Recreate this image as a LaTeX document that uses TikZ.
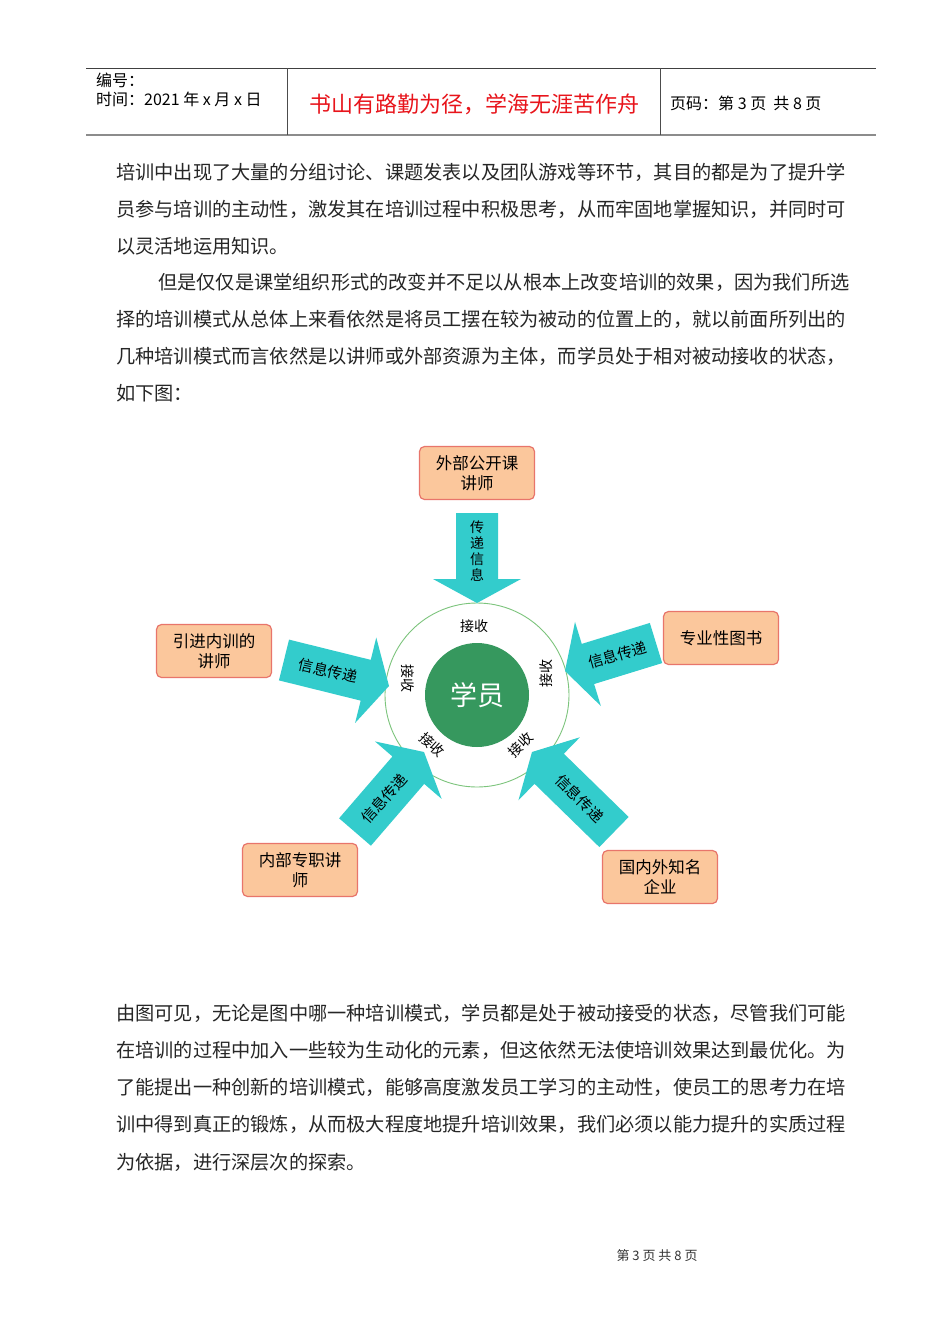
\documentclass[tikz,border=0pt]{standalone}
\usepackage{fontspec}
\setmainfont{Noto Sans CJK SC}
\usetikzlibrary{calc}
\definecolor{boxfill}{HTML}{FBC79C}
\definecolor{boxline}{HTML}{E8756B}
\definecolor{teal}{HTML}{33CCCC}
\definecolor{stugreen}{HTML}{36985E}
\definecolor{ringgreen}{HTML}{7CC47C}
\definecolor{hdrred}{HTML}{E8141B}
\tikzset{
  body/.style={anchor=west,inner sep=0pt,font=\fontsize{19.2}{20}\selectfont,text=black!85},
  srcbox/.style={draw=boxline,line width=1.2pt,fill=boxfill,rounded corners=5pt,minimum width=115pt,minimum height=53pt,align=center,inner sep=2pt,font=\fontsize{16.5}{20}\selectfont},
  arrowfill/.style={fill=teal},
  arrtext/.style={font=\fontsize{15}{16}\selectfont,inner sep=0pt},
  recv/.style={font=\fontsize{14}{15}\selectfont,inner sep=0pt},
  hdr/.style={anchor=west,inner sep=0pt,font=\fontsize{16}{18}\selectfont}
}
\newcommand\bigarrow[4]{%
  \fill[arrowfill] let \p1=($(#2)-(#1)$), \n1={atan2(\y1,\x1)} in
    (#2) -- ($(#2)+(\n1+180:24pt)+(\n1+90:44pt)$) -- ($(#2)+(\n1+180:24pt)+(\n1+90:21pt)$)
    -- ($(#1)+(\n1+90:21pt)$) -- ($(#1)+(\n1-90:21pt)$)
    -- ($(#2)+(\n1+180:24pt)+(\n1-90:21pt)$) -- ($(#2)+(\n1+180:24pt)+(\n1-90:44pt)$) -- cycle;
  \node[arrtext,rotate=#4] at ($(#1)!0.42!(#2)$) {#3};
}
\begin{document}
\begin{tikzpicture}[x=1pt,y=-1pt]
\useasboundingbox[fill=white] (0,0) rectangle (950,1344);
% header
\draw[line width=0.8pt,black!75] (86,68) -- (876,68);
\draw[line width=2pt,black!45] (86,135) -- (876,135);
\draw[line width=0.8pt,black!70] (287,68) -- (287,135) (660,68) -- (660,135);
\node[hdr] (h1) at (96,80) {编号：};
\node[hdr] (h2) at (96,99) {时间：2021 年 x 月 x 日};
\node[inner sep=0pt,text=hdrred,font=\fontsize{22}{24}\selectfont] (h3) at (474,104) {书山有路勤为径，学海无涯苦作舟};
\node[hdr] (h4) at (670,103) {页码：第 3 页\ \ 共 8 页};
% paragraph 1
\node[body] (p1) at (116,172) {培训中出现了大量的分组讨论、课题发表以及团队游戏等环节，其目的都是为了提升学};
\node[body] (p2) at (116,209) {员参与培训的主动性，激发其在培训过程中积极思考，从而牢固地掌握知识，并同时可};
\node[body] (p3) at (116,246) {以灵活地运用知识。};
\node[body] (p4) at (158,282) {但是仅仅是课堂组织形式的改变并不足以从根本上改变培训的效果，因为我们所选};
\node[body] (p5) at (116,319) {择的培训模式从总体上来看依然是将员工摆在较为被动的位置上的，就以前面所列出的};
\node[body] (p6) at (116,356) {几种培训模式而言依然是以讲师或外部资源为主体，而学员处于相对被动接收的状态，};
\node[body] (p7) at (116,393) {如下图：};
% diagram
\node[circle,draw=ringgreen,line width=0.9pt,minimum size=184pt] (ring) at (477,695) {};
\node[circle,fill=stugreen,minimum size=104pt,text=white,font=\fontsize{27}{28}\selectfont] (stu) at (477,695) {学员};
\node[srcbox] (b1) at (477,473) {外部公开课\\讲师};
\node[srcbox] (b2) at (214,651) {引进内训的\\讲师};
\node[srcbox] (b3) at (721,638) {专业性图书};
\node[srcbox] (b4) at (300,870) {内部专职讲\\师};
\node[srcbox] (b5) at (660,877) {国内外知名\\企业};
\coordinate (t1) at (477,513); \coordinate (e1) at (477,603);
\coordinate (t2) at (284,660); \coordinate (e2) at (389,686);
\coordinate (t3) at (656,643); \coordinate (e3) at (565,671);
\coordinate (t4) at (355,832); \coordinate (e4) at (424,752);
\coordinate (t5) at (614,832); \coordinate (e5) at (532,752);
\bigarrow{t1}{e1}{\parbox{15pt}{\centering\fontsize{14}{16}\selectfont 传\\递\\信\\息}}{0}
\bigarrow{t2}{e2}{信息传递}{-13}
\bigarrow{t3}{e3}{信息传递}{16}
\bigarrow{t4}{e4}{信息传递}{48}
\bigarrow{t5}{e5}{信息传递}{-45}
\node[recv] (r1) at (474,626) {接收};
\node[recv,rotate=-90] (r2) at (408,678) {接收};
\node[recv,rotate=90] (r3) at (546,673) {接收};
\node[recv,rotate=-42] (r4) at (432,745) {接收};
\node[recv,rotate=45] (r5) at (521,745) {接收};
% paragraph 2
\node[body] (q1) at (116,1013) {由图可见，无论是图中哪一种培训模式，学员都是处于被动接受的状态，尽管我们可能};
\node[body] (q2) at (116,1050) {在培训的过程中加入一些较为生动化的元素，但这依然无法使培训效果达到最优化。为};
\node[body] (q3) at (116,1087) {了能提出一种创新的培训模式，能够高度激发员工学习的主动性，使员工的思考力在培};
\node[body] (q4) at (116,1124) {训中得到真正的锻炼，从而极大程度地提升培训效果，我们必须以能力提升的实质过程};
\node[body] (q5) at (116,1162) {为依据，进行深层次的探索。};
\node[inner sep=0pt,font=\fontsize{13}{14}\selectfont,text=black!80] (foot) at (657,1256) {第 3 页 共 8 页};
\end{tikzpicture}
\end{document}
